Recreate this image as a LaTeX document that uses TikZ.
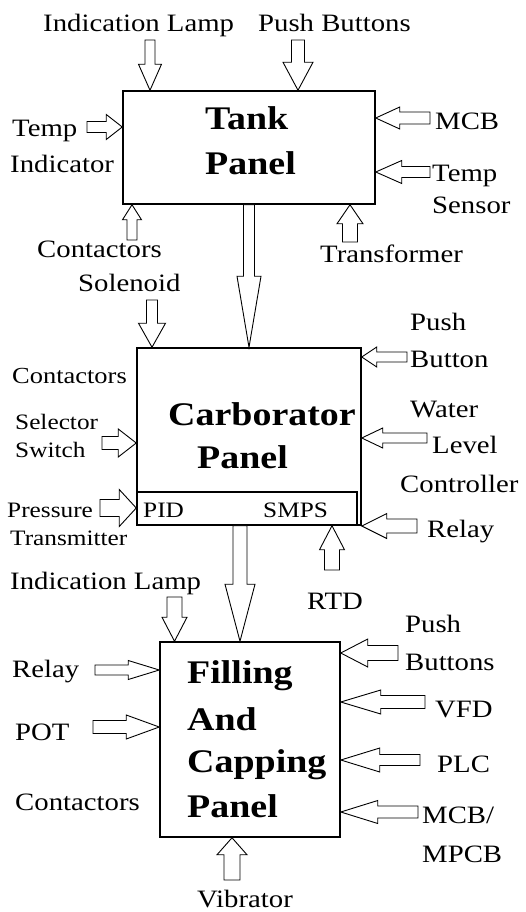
\documentclass[tikz,border=0pt]{standalone}
\usepackage{fontspec}
\usetikzlibrary{calc}
\newfontfamily\diafont[FakeStretch=1.15]{Liberation Serif}

% hollow block arrow: start, tip, half shaft, half head, head length
\newcommand{\blkarrow}[5]{%
  \coordinate (bs) at (#1);
  \coordinate (bt) at (#2);
  \coordinate (bh) at ($(bt)!#5!(bs)$);
  \draw[blk] ($(bs)!#3!90:(bt)$) -- ($(bh)!#3!-90:(bs)$) -- ($(bh)!#4!-90:(bs)$) -- (bt)
    -- ($(bh)!#4!90:(bs)$) -- ($(bh)!#3!90:(bs)$) -- ($(bs)!#3!-90:(bt)$) -- cycle;
}

\begin{document}
\begin{tikzpicture}[x=1pt, y=-1pt,
  panel/.style={draw, line width=1.5pt, inner sep=0pt},
  ttl/.style={font=\diafont\bfseries\fontsize{33}{40}\selectfont, inner sep=0pt, anchor=base west},
  lbl/.style={font=\diafont\fontsize{25}{30}\selectfont, inner sep=0pt, anchor=base west},
  slbl/.style={font=\diafont\fontsize{22}{26}\selectfont, inner sep=0pt, anchor=base west},
  blk/.style={draw, line width=0.9pt, fill=white, line join=miter}
]
\fill[white] (0,0) rectangle (525,912);
\useasboundingbox (0,0) rectangle (525,912);

% panels
\node[panel, minimum width=252pt, minimum height=113pt] (tank) at (249,147.5) {};
\node[panel, minimum width=224pt, minimum height=177pt] (carb) at (249,436.5) {};
\node[panel, minimum width=220pt, minimum height=33pt] (ctrl) at (247,508.5) {};
\node[panel, minimum width=180pt, minimum height=195pt] (fill) at (250,739.5) {};

\foreach \n/\x/\y/\txt in {tankA/205/130/Tank, tankB/205/175/Panel,
  carbA/168/425/Carborator, carbB/197/468/Panel,
  fillA/187/683/Filling, fillB/187/730/And, fillC/187/772/Capping, fillD/187/817/Panel}
  \node[ttl] (\n) at (\x,\y) {\txt};

\foreach \n/\x/\y/\txt in {lampT/43/32/Indication Lamp, pushT/258/32/Push Buttons,
  tempA/12/137/Temp, tempB/10/173/Indicator, mcbT/435/130/MCB,
  sensA/432/182/Temp, sensB/432/213/Sensor, contT/37/257/Contactors,
  trans/320/262/Transformer, solen/78/291/Solenoid,
  pushA/410/330/Push, pushB/410/367/Button, watA/410/417/Water, watB/432/453/Level,
  watC/400/492/Controller, relC/427/537/Relay, rtd/307/609/RTD,
  lampF/10/589/Indication Lamp, pushFA/405/632/Push, pushFB/405/670/Buttons,
  relF/12/677/Relay, pot/15/740/POT, contF/15/810/Contactors,
  vfd/435/717/VFD, plc/437/772/PLC, mcbA/422/823/{MCB/}, mcbB/422/862/MPCB,
  vib/197/907/Vibrator}
  \node[lbl] (\n) at (\x,\y) {\txt};
\node[lbl, font=\diafont\fontsize{23}{28}\selectfont] (contC) at (12,383) {Contactors};

\foreach \n/\x/\y/\txt in {selA/15/429/Selector, selB/15/457/Switch,
  presA/7/517/Pressure, presB/10/545/Transmitter, pid/143/517/PID, smps/263/517/SMPS}
  \node[slbl] (\n) at (\x,\y) {\txt};

% arrow tails
\coordinate (aLampT) at (150,40);
\coordinate (aPushT) at (298,40);
\coordinate (aTemp) at (87,127);
\coordinate (aMcbT) at (430,118);
\coordinate (aSens) at (430,172);
\coordinate (aContT) at (132,240);
\coordinate (aTrans) at (350,242);
\coordinate (aSolen) at (152,300);
\coordinate (aSel) at (102,443);
\coordinate (aPres) at (100,508);
\coordinate (aPushC) at (407,357);
\coordinate (aWat) at (427,438);
\coordinate (aRelC) at (417,526);
\coordinate (aRtd) at (332,570);
\coordinate (aMid) at (240,0);
\coordinate (aLampF) at (174.5,597);
\coordinate (aRelF) at (95,670);
\coordinate (aPot) at (93,727);
\coordinate (aPushF) at (398,653);
\coordinate (aVfd) at (425,702);
\coordinate (aPlc) at (420,760);
\coordinate (aMcbF) at (418,812);
\coordinate (aVib) at (232,880);

\foreach \s/\tip/\w/\h/\l in {
  aLampT/aLampT |- tank.north/5pt/11.5pt/26pt,
  aPushT/aPushT |- tank.north/6.5pt/15pt/28pt,
  aTemp/aTemp -| tank.west/5.5pt/12.5pt/16pt,
  aMcbT/aMcbT -| tank.east/6pt/11pt/24pt,
  aSens/aSens -| tank.east/5.5pt/11.5pt/26pt,
  aContT/aContT |- tank.south/5pt/9.5pt/15pt,
  aTrans/aTrans |- tank.south/7.5pt/13pt/19pt,
  tank.south/carb.north/5.5pt/12pt/71pt,
  aSolen/aSolen |- carb.north/5.5pt/13.5pt/24pt,
  aSel/aSel -| carb.west/6.5pt/14pt/18pt,
  aPres/aPres -| ctrl.west/8.5pt/18.5pt/17pt,
  aPushC/aPushC -| carb.east/5pt/10pt/15pt,
  aWat/aWat -| carb.east/5pt/10pt/21pt,
  aRelC/aRelC -| carb.east/7pt/12.5pt/25pt,
  aRtd/aRtd |- ctrl.south/7.5pt/12.5pt/24pt,
  aMid |- ctrl.south/aMid |- fill.north/7pt/15pt/57pt,
  aLampF/aLampF |- fill.north/7.5pt/12.5pt/24pt,
  aRelF/aRelF -| fill.west/5pt/9.5pt/31pt,
  aPot/aPot -| fill.west/6.5pt/12pt/33pt,
  aPushF/aPushF -| fill.east/7.5pt/14pt/27pt,
  aVfd/aVfd -| fill.east/6.5pt/12pt/40pt,
  aPlc/aPlc -| fill.east/5.5pt/12pt/39pt,
  aMcbF/aMcbF -| fill.east/6pt/11.5pt/37pt,
  aVib/aVib |- fill.south/8pt/15pt/17pt}
  \blkarrow{\s}{\tip}{\w}{\h}{\l};
\end{tikzpicture}
\end{document}
